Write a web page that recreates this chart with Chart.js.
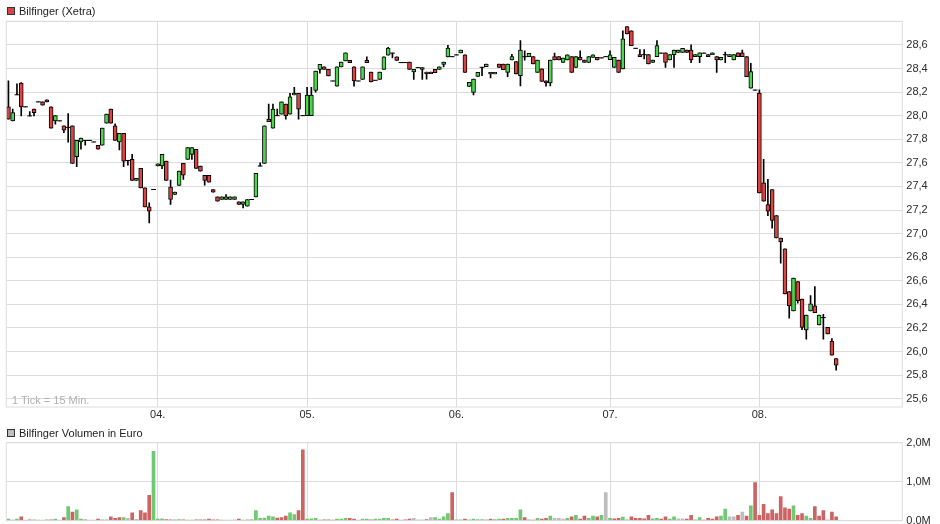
<!DOCTYPE html>
<html><head><meta charset="utf-8">
<script src="https://cdn.jsdelivr.net/npm/chart.js@4.4.1/dist/chart.umd.min.js"></script>
<style>
html,body{margin:0;padding:0;width:940px;height:524px;overflow:hidden;background:#fff;font-family:"Liberation Sans",Arial,sans-serif;}
canvas{position:absolute;left:0;}
#c1{top:0;}
#c2{top:424px;}
.leg{position:absolute;left:7px;font-size:11px;line-height:13px;color:#222;white-space:nowrap;}
.leg i{display:inline-block;width:6px;height:6px;border:1px solid #333;margin-right:4px;vertical-align:-0px;}
#tick{position:absolute;left:12px;top:394px;font-size:11px;line-height:13px;color:#b0b0b0;white-space:nowrap;}
</style>
</head><body>
<canvas id="c1" width="940" height="424"></canvas>
<canvas id="c2" width="940" height="110"></canvas>
<div class="leg" style="top:5px"><i style="background:#dc4444"></i>Bilfinger (Xetra)</div>
<div class="leg" style="top:427px"><i style="background:#bdbdbd"></i>Bilfinger Volumen in Euro</div>
<div id="tick">1 Tick = 15 Min.</div>
<script>
const days = ['03.','04.','05.','06.','07.','08.'];
const slotsPerDay = [35,35,35,36,35,34];
const shownDays = ['04.','05.','06.','07.','08.'];

const priceOpen = [
28.075,27.956,28.177,28.277,28.075,27.998,28.055,28.117,28.117,28.135,
28.075,27.956,27.956,27.913,27.900,27.913,27.652,27.777,27.790,27.790,
27.777,27.749,27.749,27.936,28.055,27.913,27.777,27.851,27.620,27.630,
27.451,27.553,27.388,27.226,27.374,
27.573,27.573,27.615,27.394,27.332,27.408,27.596,27.630,27.672,27.715,
27.573,27.494,27.494,27.374,27.311,27.289,27.289,27.289,27.289,27.269,
27.247,27.232,27.289,27.311,27.573,27.596,27.970,27.894,28.000,28.013,
28.098,28.013,28.175,28.190,28.000,
28.000,28.000,28.214,28.392,28.413,28.392,28.294,28.251,28.413,28.464,
28.469,28.413,28.294,28.307,28.469,28.370,28.300,28.307,28.392,28.512,
28.530,28.498,28.450,28.450,28.455,28.370,28.407,28.392,28.370,28.370,
28.392,28.392,28.435,28.498,28.500,
28.515,28.532,28.515,28.248,28.197,28.333,28.410,28.415,28.367,28.353,
28.438,28.438,28.367,28.472,28.458,28.339,28.500,28.500,28.500,28.367,
28.396,28.296,28.277,28.500,28.500,28.452,28.472,28.500,28.410,28.494,
28.472,28.452,28.494,28.494,28.490,28.500,
28.475,28.410,28.472,28.396,28.756,28.720,28.571,28.517,28.517,28.517,
28.452,28.500,28.530,28.532,28.472,28.517,28.537,28.537,28.557,28.557,
28.500,28.500,28.530,28.517,28.517,28.500,28.472,28.517,28.500,28.472,
28.532,28.532,28.500,28.234,28.217,
28.191,27.431,27.247,27.374,27.153,26.963,26.872,26.509,26.345,26.594,
26.445,26.183,26.345,26.387,26.225,26.288,26.205,26.089,25.941];

const priceHigh = [
28.296,28.055,28.270,28.280,28.075,28.035,28.055,28.117,28.117,28.135,
28.075,28.000,27.956,27.913,28.018,27.913,27.790,27.809,27.790,27.790,
27.777,27.749,27.894,28.013,28.055,27.930,27.851,27.851,27.620,27.672,
27.468,27.553,27.388,27.260,27.374,
27.592,27.672,27.615,27.454,27.352,27.530,27.596,27.729,27.729,27.715,
27.573,27.494,27.494,27.374,27.311,27.311,27.330,27.311,27.311,27.269,
27.269,27.289,27.289,27.511,27.600,27.913,28.098,28.098,28.055,28.117,
28.098,28.190,28.240,28.190,28.000,
28.240,28.240,28.379,28.435,28.413,28.392,28.294,28.413,28.455,28.532,
28.469,28.413,28.294,28.413,28.498,28.370,28.300,28.370,28.498,28.580,
28.530,28.498,28.450,28.450,28.455,28.392,28.407,28.407,28.370,28.370,
28.392,28.413,28.455,28.597,28.500,
28.515,28.557,28.515,28.282,28.311,28.367,28.410,28.438,28.367,28.367,
28.438,28.438,28.438,28.520,28.458,28.637,28.550,28.529,28.500,28.472,
28.396,28.296,28.472,28.530,28.500,28.489,28.515,28.500,28.500,28.550,
28.472,28.500,28.515,28.494,28.490,28.500,
28.550,28.494,28.472,28.720,28.756,28.720,28.571,28.560,28.560,28.517,
28.472,28.637,28.530,28.532,28.517,28.557,28.557,28.571,28.557,28.600,
28.517,28.532,28.530,28.517,28.532,28.500,28.494,28.540,28.517,28.517,
28.532,28.557,28.500,28.443,28.217,
28.220,27.630,27.460,27.374,27.153,26.963,26.872,26.509,26.623,26.594,
26.445,26.310,26.475,26.550,26.310,26.315,26.205,26.110,25.941];

const priceLow = [
27.970,27.956,28.177,27.998,28.075,27.998,27.998,28.117,28.090,28.117,
27.894,27.928,27.956,27.856,27.775,27.596,27.567,27.715,27.750,27.790,
27.777,27.715,27.749,27.936,27.936,27.790,27.709,27.567,27.580,27.451,
27.451,27.388,27.226,27.090,27.374,
27.573,27.550,27.451,27.247,27.332,27.408,27.460,27.630,27.630,27.553,
27.530,27.410,27.437,27.352,27.275,27.289,27.289,27.289,27.289,27.247,
27.218,27.232,27.289,27.311,27.573,27.596,27.950,27.894,28.000,28.013,
27.970,28.013,28.175,27.970,28.000,
28.000,28.000,28.200,28.360,28.392,28.336,28.294,28.251,28.413,28.464,
28.450,28.250,28.294,28.307,28.450,28.285,28.300,28.307,28.392,28.512,
28.490,28.469,28.450,28.450,28.392,28.307,28.407,28.307,28.310,28.356,
28.364,28.392,28.413,28.498,28.500,
28.515,28.532,28.367,28.248,28.175,28.333,28.340,28.415,28.320,28.353,
28.410,28.390,28.330,28.472,28.353,28.253,28.470,28.500,28.438,28.367,
28.290,28.250,28.253,28.472,28.472,28.452,28.472,28.367,28.410,28.472,
28.452,28.452,28.494,28.472,28.490,28.500,
28.475,28.410,28.367,28.396,28.694,28.594,28.571,28.500,28.480,28.438,
28.452,28.500,28.530,28.410,28.472,28.410,28.537,28.537,28.537,28.450,
28.500,28.450,28.530,28.500,28.517,28.367,28.472,28.450,28.500,28.472,
28.500,28.500,28.330,28.234,28.217,
27.345,27.275,27.153,27.047,26.963,26.750,26.489,26.283,26.345,26.410,
26.185,26.106,26.345,26.330,26.225,26.106,26.149,25.970,25.843];

const priceClose = [
27.970,28.026,28.177,28.075,28.075,27.998,28.026,28.117,28.090,28.117,
27.894,28.000,27.956,27.877,27.900,27.596,27.790,27.809,27.790,27.790,
27.777,27.715,27.894,28.013,27.936,27.790,27.851,27.615,27.620,27.451,
27.468,27.388,27.226,27.190,27.374,
27.592,27.672,27.451,27.289,27.352,27.530,27.496,27.729,27.729,27.553,
27.530,27.451,27.437,27.352,27.275,27.311,27.311,27.311,27.311,27.247,
27.269,27.289,27.289,27.511,27.573,27.913,27.950,28.055,28.000,28.117,
28.000,28.160,28.190,28.055,28.000,
28.175,28.175,28.379,28.435,28.392,28.336,28.294,28.413,28.455,28.532,
28.450,28.294,28.294,28.413,28.450,28.285,28.300,28.370,28.498,28.574,
28.530,28.469,28.450,28.450,28.392,28.392,28.407,28.407,28.356,28.356,
28.364,28.413,28.455,28.574,28.500,
28.515,28.557,28.367,28.282,28.311,28.367,28.410,28.438,28.353,28.367,
28.410,28.390,28.438,28.500,28.353,28.557,28.500,28.529,28.438,28.472,
28.290,28.277,28.472,28.472,28.472,28.489,28.515,28.367,28.500,28.472,
28.452,28.500,28.515,28.472,28.490,28.500,
28.515,28.494,28.367,28.651,28.694,28.594,28.571,28.500,28.517,28.438,
28.472,28.594,28.530,28.452,28.517,28.557,28.557,28.571,28.537,28.472,
28.517,28.532,28.530,28.500,28.532,28.472,28.494,28.517,28.517,28.517,
28.500,28.500,28.330,28.373,28.217,
27.345,27.275,27.190,27.111,26.963,26.929,26.489,26.387,26.623,26.432,
26.205,26.310,26.404,26.330,26.310,26.288,26.149,25.970,25.885];

// volume in Euro
const volume = [
40000,10000,40000,100000,5000,20000,20000,10000,10000,20000,
20000,40000,10000,80000,360000,220000,280000,40000,20000,5000,
10000,40000,20000,20000,100000,60000,80000,80000,60000,200000,
30000,260000,200000,650000,1780000,
40000,50000,30000,20000,20000,30000,20000,10000,10000,20000,
20000,20000,40000,20000,20000,10000,5000,5000,20000,40000,
10000,20000,20000,260000,60000,70000,120000,100000,70000,80000,
120000,200000,160000,260000,1820000,
40000,50000,60000,10000,20000,20000,10000,40000,40000,60000,
60000,40000,10000,40000,40000,20000,40000,40000,60000,60000,
20000,40000,10000,20000,40000,60000,20000,20000,30000,80000,
80000,40000,100000,180000,720000,
20000,20000,40000,20000,40000,30000,30000,20000,40000,30000,
40000,40000,60000,60000,60000,280000,80000,20000,10000,60000,
40000,60000,120000,60000,60000,40000,60000,100000,140000,40000,
120000,60000,120000,100000,140000,720000,
60000,50000,60000,90000,20000,100000,60000,60000,50000,140000,
50000,60000,40000,100000,40000,100000,50000,50000,40000,140000,
20000,80000,10000,60000,40000,100000,120000,300000,100000,100000,
140000,220000,120000,380000,980000,
140000,420000,180000,280000,180000,620000,330000,300000,380000,140000,
180000,120000,60000,360000,120000,260000,10000,220000,100000];

// g = up, r = down, n = unchanged
const volTrend = ('gggrnrggngrgnrgrggrnnrggrrrgnrgrrrg' +
  'ggrrggrggrrrrrrgnnnrggrgggggrrrggrr' +
  'gggrrrrgggrrnggrggggrrnrrnnnrnggggr' +
  'ggrgggggrggrggggrgrgrrgnnngrgrrggrgn' +
  'grrggrrrrrggrrggnnrrggrrrrggnnrnrgr' +
  'rrrrrrrrgrrggrrrrrr').split('');

// ---- build categories ----
const categories = [];
const dayStartLabel = {};
days.forEach((d, di) => {
  if (shownDays.includes(d)) dayStartLabel[categories.length] = d;
  for (let k = 0; k < slotsPerDay[di]; k++) {
    const m = 9 * 60 + 15 * k;
    categories.push(d + ' ' + String(Math.floor(m / 60)).padStart(2, '0') + ':' + String(m % 60).padStart(2, '0'));
  }
});

const N = priceOpen.length;
const wicks = categories.map((_, i) => i < N ? [priceLow[i], priceHigh[i]] : null);
const bodies = categories.map((_, i) => (i < N && priceOpen[i] !== priceClose[i]) ? [Math.min(priceOpen[i], priceClose[i]), Math.max(priceOpen[i], priceClose[i])] : null);
const dojis = categories.map((_, i) => (i < N && priceOpen[i] === priceClose[i]) ? priceOpen[i] : null);

const RED = '#dc4444', GREEN = '#4dd64d';
const bodyColors = categories.map((_, i) => i < N && priceClose[i] > priceOpen[i] ? GREEN : RED);
const volColors = categories.map((_, i) => volTrend[i] === 'g' ? '#70c870' : volTrend[i] === 'r' ? '#cc6464' : '#bdbdbd');
const volData = categories.map((_, i) => i < N ? volume[i] : null);

const GRID = '#dcdcdc';
const FONT = {family: '"Liberation Sans", Arial, sans-serif', size: 11};
const frame = {
  id: 'frame',
  afterDraw(chart) {
    const a = chart.chartArea, ctx = chart.ctx;
    ctx.save(); ctx.strokeStyle = GRID; ctx.lineWidth = 1;
    ctx.strokeRect(a.left, a.top, a.right - a.left, a.bottom - a.top);
    ctx.restore();
  }
};
const xGrid = {offset: false, drawTicks: false, color: c => (c.index in dayStartLabel) ? GRID : 'rgba(0,0,0,0)'};

new Chart(document.getElementById('c1'), {
  data: {
    labels: categories,
    datasets: [
      {type: 'bar', data: wicks, backgroundColor: '#000', barThickness: 1, grouped: false, order: 2},
      {type: 'bar', data: bodies, backgroundColor: bodyColors, borderColor: '#000', borderWidth: 1, borderSkipped: false, barThickness: 4, grouped: false, order: 1},
      {type: 'line', data: dojis, showLine: false, pointStyle: 'line', pointRadius: 2.4, pointBorderColor: '#000', pointBorderWidth: 1, borderColor: '#000', order: 0}
    ]
  },
  options: {
    responsive: false, animation: false,
    layout: {padding: {top: 21.3, left: 6.3, right: 0, bottom: 0}},
    plugins: {legend: {display: false}, tooltip: {enabled: false}},
    scales: {
      x: {type: 'category', offset: true, grid: xGrid, border: {display: false},
          ticks: {autoSkip: false, maxRotation: 0, minRotation: 0, padding: 1, color: '#2a2a2a', font: FONT,
                  callback: (v, i) => dayStartLabel[i] || ''},
          afterFit: s => { s.height = 17; }},
      y: {position: 'right', min: 25.53, max: 28.8, grid: {color: GRID, drawTicks: false}, border: {display: false},
          ticks: {stepSize: 0.2, includeBounds: false, padding: 4, color: '#2a2a2a', font: FONT,
                  callback: v => v > 28.75 ? '' : v.toFixed(1).replace('.', ',')},
          afterFit: s => { s.width = 37.7; }}
    }
  },
  plugins: [frame]
});

new Chart(document.getElementById('c2'), {
  data: {
    labels: categories,
    datasets: [{type: 'bar', data: volData, backgroundColor: volColors, barThickness: 3, grouped: false}]
  },
  options: {
    responsive: false, animation: false,
    layout: {padding: {top: 18.7, left: 6.3, right: 0, bottom: 13.3}},
    plugins: {legend: {display: false}, tooltip: {enabled: false}},
    scales: {
      x: {type: 'category', offset: true, grid: xGrid, border: {display: false},
          ticks: {display: false, autoSkip: false, maxRotation: 0, minRotation: 0},
          afterFit: s => { s.height = 0; }},
      y: {position: 'right', min: 0, max: 2000000, grid: {color: GRID, drawTicks: false}, border: {display: false},
          ticks: {stepSize: 1000000, padding: 4, color: '#2a2a2a', font: FONT,
                  callback: v => (v / 1e6).toFixed(1).replace('.', ',') + 'M'},
          afterFit: s => { s.width = 37.7; }}
    }
  },
  plugins: [frame]
});
</script>
</body></html>
